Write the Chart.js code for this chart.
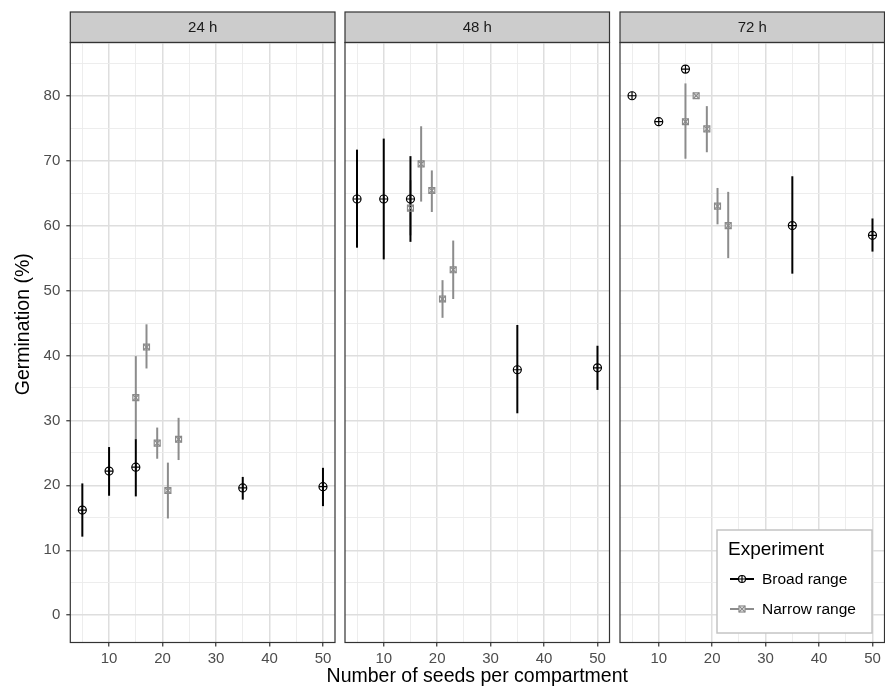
<!DOCTYPE html>
<html><head><meta charset="utf-8">
<script src="https://cdn.jsdelivr.net/npm/chart.js@4.4.1/dist/chart.umd.min.js"></script>
<style>body{margin:0;background:#fff;} canvas{position:absolute;left:0;top:0;}</style>
</head><body>
<canvas id="c0" width="885" height="690"></canvas>
<canvas id="c1" width="885" height="690"></canvas>
<canvas id="c2" width="885" height="690"></canvas>
<script>
// ---------- data ----------
const panelLabels = ['24 h', '48 h', '72 h'];
const broadSeeds  = [5, 10, 15, 35, 50];
const narrowSeeds = [15, 17, 19, 21, 23];

const broadMean = [
  [16.2, 22.2, 22.8, 19.6, 19.8],
  [64.1, 64.1, 64.1, 37.8, 38.1],
  [80.0, 76.0, 84.1, 60.0, 58.5]
];
const broadLow = [
  [12.1, 18.4, 18.3, 17.8, 16.8],
  [56.6, 54.8, 57.5, 31.1, 34.7],
  [80.0, 76.0, 84.1, 52.6, 56.0]
];
const broadHigh = [
  [20.3, 25.9, 27.1, 21.3, 22.7],
  [71.7, 73.4, 70.7, 44.7, 41.5],
  [80.0, 76.0, 84.1, 67.6, 61.1]
];
const narrowMean = [
  [33.5, 41.3, 26.5, 19.2, 27.1],
  [62.7, 69.5, 65.4, 48.7, 53.2],
  [76.0, 80.0, 74.9, 63.0, 60.0]
];
const narrowLow = [
  [27.0, 38.0, 24.1, 14.9, 23.9],
  [58.5, 63.7, 62.1, 45.8, 48.7],
  [70.3, 80.0, 71.3, 60.2, 55.0]
];
const narrowHigh = [
  [39.9, 44.8, 28.9, 23.5, 30.4],
  [67.0, 75.3, 68.5, 51.6, 57.7],
  [81.9, 80.0, 78.4, 65.8, 65.2]
];
const xTicks = [5, 10, 15, 20, 25, 30, 35, 40, 45, 50];
const yTicks = [0, 5, 10, 15, 20, 25, 30, 35, 40, 45, 50, 55, 60, 65, 70, 75, 80, 85];
const seriesNames = ['Broad range', 'Narrow range'];
const legendTitle = 'Experiment';
const xTitle = 'Number of seeds per compartment';
const yTitle = 'Germination (%)';

// ---------- layout / style ----------
const FONT = "'Liberation Sans', Arial, Helvetica, sans-serif";
Chart.defaults.font.family = FONT;
const BLACK = '#000000';
const GREY = '#8c8c8c';
const GREY_PT = '#8a8a8a';
const panelBox = [[70.3, 335], [345, 609.5], [620, 884.5]];
const AREA_TOP = 42.5, STRIP_TOP = 12, X_AXIS_H = 47.5;

const facetPlugin = {
  id: 'facet',
  beforeDraw(chart, args, opts) {
    const a = chart.chartArea, ctx = chart.ctx;
    ctx.save();
    ctx.fillStyle = '#ffffff';
    ctx.fillRect(a.left, a.top, a.width, a.height);
    ctx.fillStyle = '#cccccc';
    ctx.fillRect(a.left, STRIP_TOP, a.width, a.top - STRIP_TOP);
    ctx.strokeStyle = '#333333';
    ctx.lineWidth = 1.2;
    ctx.strokeRect(a.left, STRIP_TOP, a.width, a.top - STRIP_TOP);
    ctx.fillStyle = '#1a1a1a';
    ctx.font = '15px ' + FONT;
    ctx.textAlign = 'center';
    ctx.textBaseline = 'middle';
    ctx.fillText(opts.label, (a.left + a.right) / 2, (STRIP_TOP + a.top) / 2 + 1);
    ctx.restore();
  },
  beforeDatasetsDraw(chart) {
    const ctx = chart.ctx, xs = chart.scales.x, ys = chart.scales.y;
    ctx.save();
    chart.data.datasets.forEach(ds => {
      if (!ds.errColor) return;
      ctx.strokeStyle = ds.errColor;
      ctx.lineWidth = 2;
      ds.data.forEach(p => {
        if (p.hi - p.lo < 0.05) return;
        const px = xs.getPixelForValue(p.x);
        ctx.beginPath();
        ctx.moveTo(px, ys.getPixelForValue(p.lo));
        ctx.lineTo(px, ys.getPixelForValue(p.hi));
        ctx.stroke();
      });
    });
    ctx.restore();
  },
  afterDraw(chart, args, opts) {
    const a = chart.chartArea, ctx = chart.ctx;
    ctx.save();
    ctx.strokeStyle = '#333333';
    ctx.lineWidth = 1.2;
    ctx.strokeRect(a.left, a.top, a.width, a.height);
    ctx.fillStyle = '#000000';
    ctx.textAlign = 'center';
    ctx.textBaseline = 'middle';
    ctx.font = '19.5px ' + FONT;
    if (opts.xTitle) {
      ctx.fillText(xTitle, (a.left + a.right) / 2, 677);
    }
    if (opts.yTitle) {
      ctx.save();
      ctx.translate(24, (STRIP_TOP + a.bottom) / 2 - 3);
      ctx.rotate(-Math.PI / 2);
      ctx.fillText(yTitle, 0, 0);
      ctx.restore();
    }
    if (opts.legend) {
      const w = 155, h = 103;
      const lx = a.right - 12.5 - w, ly = a.bottom - 9.5 - h;
      ctx.fillStyle = '#ffffff';
      ctx.fillRect(lx, ly, w, h);
      ctx.strokeStyle = '#c4c4c4';
      ctx.lineWidth = 1.5;
      ctx.strokeRect(lx, ly, w, h);
      ctx.fillStyle = '#000000';
      ctx.textAlign = 'left';
      ctx.textBaseline = 'middle';
      ctx.font = '19px ' + FONT;
      ctx.fillText(legendTitle, lx + 11, ly + 20);
      ctx.font = '15.5px ' + FONT;
      const rows = [ly + 49, ly + 79];
      const cols = [BLACK, GREY];
      rows.forEach((ry, k) => {
        ctx.strokeStyle = cols[k];
        ctx.lineWidth = 2;
        ctx.beginPath(); ctx.moveTo(lx + 13, ry); ctx.lineTo(lx + 37, ry); ctx.stroke();
        const cx = lx + 25;
        ctx.lineWidth = 1.2;
        if (k === 0) {
          ctx.fillStyle = '#fff';
          ctx.beginPath(); ctx.arc(cx, ry, 3.5, 0, Math.PI * 2); ctx.fill(); ctx.stroke();
          ctx.beginPath(); ctx.moveTo(cx - 3.5, ry); ctx.lineTo(cx + 3.5, ry);
          ctx.moveTo(cx, ry - 3.5); ctx.lineTo(cx, ry + 3.5); ctx.stroke();
        } else {
          ctx.strokeStyle = GREY_PT;
          ctx.fillStyle = '#fff';
          ctx.fillRect(cx - 3, ry - 3, 6, 6);
          ctx.strokeRect(cx - 3, ry - 3, 6, 6);
          ctx.beginPath(); ctx.moveTo(cx - 3, ry - 3); ctx.lineTo(cx + 3, ry + 3);
          ctx.moveTo(cx + 3, ry - 3); ctx.lineTo(cx - 3, ry + 3); ctx.stroke();
        }
        ctx.fillStyle = '#000000';
        ctx.fillText(seriesNames[k], lx + 45, ry + 0.5);
      });
    }
    ctx.restore();
  }
};

function pts(xs, m, lo, hi) {
  return m.map((v, j) => ({ x: xs[j], y: v, lo: lo[j], hi: hi[j] }));
}

function makePanel(i) {
  const [left, right] = panelBox[i];
  const narrow = pts(narrowSeeds, narrowMean[i], narrowLow[i], narrowHigh[i]);
  const broad = pts(broadSeeds, broadMean[i], broadLow[i], broadHigh[i]);
  const major = c => c.tick && c.tick.value % 10 === 0;
  const datasets = [
    { label: seriesNames[1], data: narrow, errColor: GREY, pointStyle: 'rect', pointRadius: 4.2,
      borderColor: GREY_PT, backgroundColor: 'rgba(0,0,0,0)', pointBorderWidth: 1.2, showLine: false },
    { label: seriesNames[1] + ' x', data: narrow, pointStyle: 'crossRot', pointRadius: 4.2,
      borderColor: GREY_PT, backgroundColor: 'rgba(0,0,0,0)', pointBorderWidth: 1.2, showLine: false },
    { label: seriesNames[0], data: broad, errColor: BLACK, pointStyle: 'circle', pointRadius: 4,
      borderColor: BLACK, backgroundColor: 'rgba(0,0,0,0)', pointBorderWidth: 1.2, showLine: false },
    { label: seriesNames[0] + ' +', data: broad, pointStyle: 'cross', pointRadius: 4,
      borderColor: BLACK, backgroundColor: 'rgba(0,0,0,0)', pointBorderWidth: 1.2, showLine: false }
  ];
  const gridColor = c => major(c) ? '#dedede' : '#ebebeb';
  const gridWidth = c => major(c) ? 1.5 : 0.9;
  return new Chart(document.getElementById('c' + i), {
    type: 'scatter',
    data: { datasets },
    plugins: [facetPlugin],
    options: {
      responsive: false,
      animation: false,
      events: [],
      layout: { autoPadding: false,
                padding: { left: i === 0 ? 0 : left, right: 885 - right, top: AREA_TOP, bottom: 0 } },
      plugins: {
        legend: { display: false },
        tooltip: { enabled: false },
        facet: { label: panelLabels[i], legend: i === 2, xTitle: i === 1, yTitle: i === 0 }
      },
      scales: {
        x: {
          type: 'linear', min: 2.75, max: 52.25,
          afterBuildTicks: s => { s.ticks = xTicks.map(v => ({ value: v })); },
          afterFit: s => { s.height = X_AXIS_H; s.paddingLeft = 0; s.paddingRight = 0; },
          ticks: { autoSkip: false, maxRotation: 0, minRotation: 0, padding: 3, color: '#4d4d4d',
                   font: { size: 15 }, callback: v => (v % 10 === 0 ? String(v) : '') },
          grid: { color: gridColor, lineWidth: gridWidth, tickLength: 4,
                  tickColor: c => major(c) ? '#333333' : 'rgba(0,0,0,0)', tickWidth: 1.2 },
          border: { display: false },
          title: { display: false }
        },
        y: {
          type: 'linear', min: -4.2, max: 88.2,
          afterBuildTicks: s => { s.ticks = yTicks.map(v => ({ value: v })); },
          afterFit: s => { s.width = i === 0 ? left : 0; s.paddingTop = 0; s.paddingBottom = 0; },
          ticks: { display: i === 0, autoSkip: false, padding: 6, color: '#4d4d4d', font: { size: 15 },
                   callback: v => (v % 10 === 0 ? String(v) : '') },
          grid: { color: gridColor, lineWidth: gridWidth, drawTicks: i === 0, tickLength: 4,
                  tickColor: c => major(c) ? '#333333' : 'rgba(0,0,0,0)', tickWidth: 1.2 },
          border: { display: false },
          title: { display: false }
        }
      }
    }
  });
}
[0, 1, 2].forEach(makePanel);
</script>
</body></html>
